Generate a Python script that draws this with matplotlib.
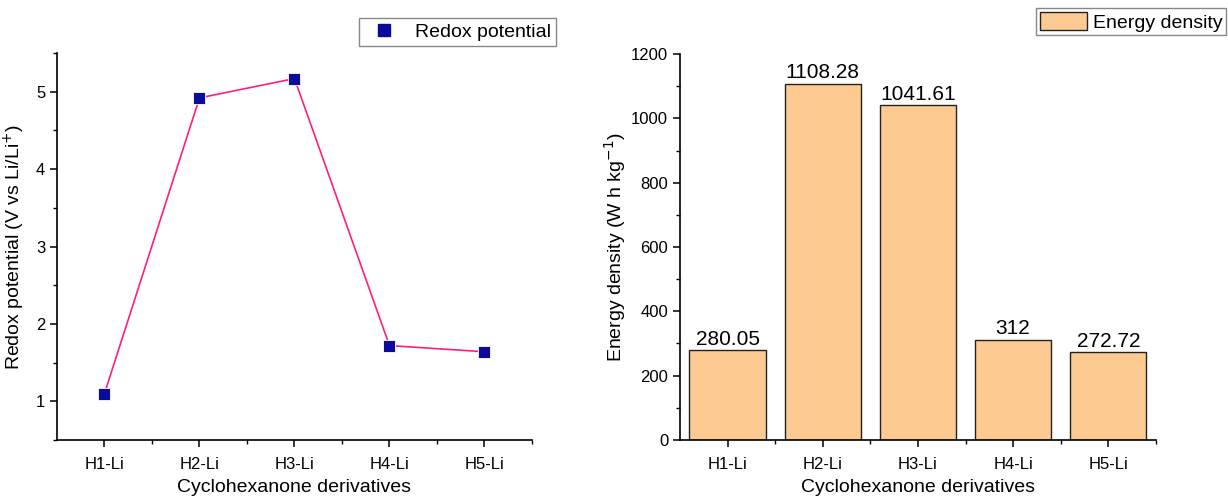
import matplotlib
matplotlib.use("Agg")
import matplotlib.pyplot as plt
from matplotlib.lines import Line2D
from matplotlib.patches import Patch
from matplotlib.ticker import MultipleLocator, FixedLocator

plt.rcParams["font.family"] = ["Liberation Sans", "DejaVu Sans"]

categories = ["H1-Li", "H2-Li", "H3-Li", "H4-Li", "H5-Li"]
redox_potential = [1.10, 4.92, 5.17, 1.72, 1.64]
energy_density = [280.05, 1108.28, 1041.61, 312, 272.72]
energy_labels = ["280.05", "1108.28", "1041.61", "312", "272.72"]

fig = plt.figure(figsize=(12.28, 4.98), dpi=100)
ax1 = fig.add_axes([0.0464, 0.1165, 0.3868, 0.777])
ax2 = fig.add_axes([0.5537, 0.1165, 0.3876, 0.775])

x = list(range(1, len(categories) + 1))

# left: redox potential line + squares
ax1.plot(x, redox_potential, color="#ff1f7a", lw=1.2, zorder=2)
ax1.scatter(x, redox_potential, marker="s", s=70, color="#0a0a9c",
            edgecolors="white", linewidths=0.6, zorder=3)
ax1.set_xlim(0.5, 5.5)
ax1.set_ylim(0.5, 5.5)
ax1.set_xticks(x)
ax1.set_xticklabels(categories)
ax1.xaxis.set_minor_locator(FixedLocator([1.5, 2.5, 3.5, 4.5, 5.5]))
ax1.yaxis.set_major_locator(MultipleLocator(1))
ax1.yaxis.set_minor_locator(MultipleLocator(0.5))
ax1.set_ylabel("Redox potential (V vs Li/Li$^{+}$)", fontsize=14, labelpad=6)
ax1.set_xlabel("Cyclohexanone derivatives", fontsize=14, labelpad=5)
h1 = Line2D([], [], ls="none", marker="s", ms=8, color="#0a0a9c")
ax1.legend([h1], ["Redox potential"], loc="upper right",
           bbox_to_anchor=(1.05, 1.09), borderaxespad=0, fontsize=14,
           fancybox=False, edgecolor="#888888", handletextpad=0.6,
           borderpad=0.25, framealpha=1)

# right: energy density bars
bars = ax2.bar(x, energy_density, width=0.8, color="#fdca92",
               edgecolor="#222222", linewidth=1.0)
for b, lab in zip(bars, energy_labels):
    ax2.text(b.get_x() + b.get_width() / 2, b.get_height() + 4, lab,
             ha="center", va="bottom", fontsize=15)
ax2.set_xlim(0.5, 5.5)
ax2.set_ylim(0, 1200)
ax2.set_xticks(x)
ax2.set_xticklabels(categories)
ax2.xaxis.set_minor_locator(FixedLocator([1.5, 2.5, 3.5, 4.5, 5.5]))
ax2.yaxis.set_major_locator(MultipleLocator(200))
ax2.yaxis.set_minor_locator(MultipleLocator(100))
ax2.set_ylabel("Energy density (W h kg$^{-1}$)", fontsize=14, labelpad=2)
ax2.set_xlabel("Cyclohexanone derivatives", fontsize=14, labelpad=5)
h2 = Patch(facecolor="#fdca92", edgecolor="#222222", linewidth=1.0)
ax2.legend([h2], ["Energy density"], loc="upper right",
           bbox_to_anchor=(1.148, 1.12), borderaxespad=0, fontsize=14,
           fancybox=False, edgecolor="#888888", handletextpad=0.3,
           borderpad=0.2, handlelength=2.4, handleheight=1.1, framealpha=1)

for ax in (ax1, ax2):
    ax.spines["top"].set_visible(False)
    ax.spines["right"].set_visible(False)
    ax.spines["left"].set_linewidth(1.2)
    ax.spines["bottom"].set_linewidth(1.2)
    ax.tick_params(which="major", direction="out", length=5, width=1.1,
                   labelsize=12)
    ax.tick_params(axis="x", which="major", pad=7)
    ax.tick_params(which="minor", direction="out", length=3, width=1.0)

fig.savefig("out.png", dpi=100)
